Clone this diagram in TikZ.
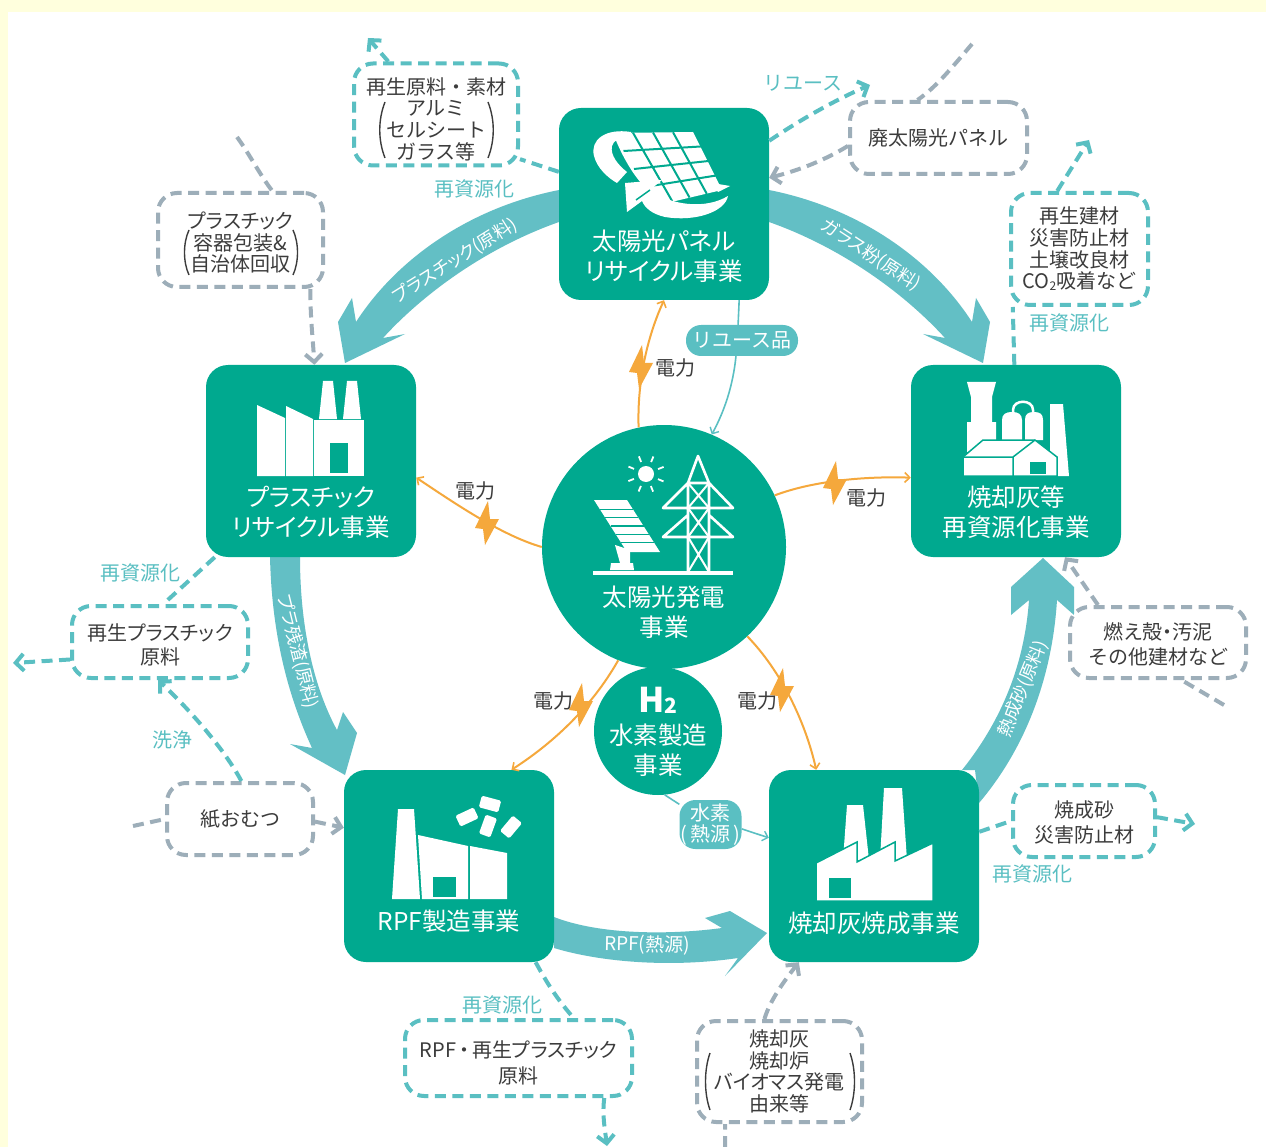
\documentclass[tikz,border=0pt]{standalone}
\usepackage{fontspec}
\setmainfont{Noto Sans CJK JP}
\newfontfamily\pf[RawFeature=+palt]{Noto Sans CJK JP}
\usetikzlibrary{arrows.meta,calc,shapes.geometric}
\definecolor{grn}{HTML}{00A98F}
\definecolor{bandc}{HTML}{63BFC5}
\definecolor{tealc}{HTML}{5ABFC2}
\definecolor{greyc}{HTML}{9DAEB9}
\definecolor{orng}{HTML}{F5A83C}
\definecolor{inkc}{HTML}{3C3C3C}
\definecolor{paper}{HTML}{FFFFDD}
\newcommand\fs[2]{\fontsize{#1}{#2}\selectfont}
\newcommand\dn[1]{\rule{0pt}{#1pt}}
\tikzset{
 mainbox/.style={fill=grn,rounded corners=22pt,minimum width=210pt,minimum height=192pt,inner sep=0pt},
 mainlabel/.style={text=white,font=\pf\fs{24.5}{30},align=center,inner sep=0pt},
 dashbox/.style={fill=white,line width=4pt,dash pattern=on 11pt off 6.5pt,rounded corners=19pt,inner sep=0pt,text=inkc,font=\fs{20}{21.7},align=center},
 tealbox/.style={dashbox,draw=tealc},
 greybox/.style={dashbox,draw=greyc},
 dashconn/.style={line width=4pt,dash pattern=on 11pt off 6.5pt},
 tealline/.style={dashconn,draw=tealc},
 greyline/.style={dashconn,draw=greyc},
 barb/.style={-{Straight Barb[length=8pt,width=17pt,line width=4pt]}},
 power/.style={draw=orng,line width=2pt,-{Straight Barb[length=5pt,width=10pt,line width=1.6pt]}},
 thinteal/.style={draw=tealc,line width=1.6pt},
 thintip/.style={-{Straight Barb[length=5pt,width=10pt,line width=1.4pt]}},
 band/.style={fill=bandc},
 bandlabel/.style={text=white,font=\pf\fs{18}{18},inner sep=0pt},
 caption/.style={text=tealc,font=\fs{20}{22},inner sep=0pt},
 dark/.style={text=inkc,font=\fs{20}{22},inner sep=0pt},
 pill/.style={fill=tealc,text=white,font=\fs{20}{21},align=center,inner sep=0pt},
 pics/bolt/.style={code={\fill[orng] (1,-22) -- (-12,5) -- (-4,6) -- (-2,22) -- (12,-4) -- (3,-4) -- cycle;}}
}
\begin{document}
\begin{tikzpicture}[x=1pt,y=-1pt]
\useasboundingbox (0,0) rectangle (1266,1147);
\fill[paper] (0,0) rectangle (1266,1147);
\fill[white] (8,12) rectangle (1266,1147);
% broad process arrows
\fill[band] (769,190) .. controls (860,208) and (932,260) .. (972,322) -- (976,298) -- (990,322) -- (983,363) -- (923,334) -- (945,338) .. controls (903,292) and (840,247) .. (769,222) -- cycle;
\fill[band] (559,190) .. controls (468,208) and (396,260) .. (356,322) -- (352,298) -- (338,322) -- (345,363) -- (405,334) -- (383,338) .. controls (425,292) and (488,247) .. (559,222) -- cycle;
\fill[band] (270,557) .. controls (272,640) and (290,700) .. (312,748) -- (290,744) -- (345,775) -- (357,733) -- (343,712) -- (337,730) .. controls (315,690) and (300,630) .. (300,557) -- cycle;
\fill[band] (554,917) .. controls (600,935) and (670,935) .. (722,928) -- (705,918) -- (730,911) -- (767,933) -- (725,976) -- (738,958) .. controls (670,968) and (600,962) .. (554,948) -- cycle;
\fill[band] (1043,558) -- (1074,587) -- (1074,615) -- (1057,600) .. controls (1052,680) and (1024,750) .. (979,803) -- (975,770) -- (962,770) .. controls (998,725) and (1024,670) .. (1029,600) -- (1011,615) -- (1011,587) -- cycle;
% labels on the broad arrows
\node[bandlabel,rotate=32] (lblplastic) at (455,261) {プラスチック(原料)};
\node[bandlabel,rotate=-33] (lblglass) at (871,255) {ガラス粉(原料)};
\node[bandlabel,rotate=-76] (lblresidue) at (298,652) {プラ残渣(原料)};
\node[bandlabel,rotate=-1,font=\pf\fs{19}{19}] (lblrpf) at (647,945) {RPF(熱源)};
\node[bandlabel,rotate=68] (lblsand) at (1023,689) {熱成砂(原料)};
% main nodes
\node[mainbox] (solar) at (664,204) {};
\node[mainbox] (plastic) at (311,461) {};
\node[mainbox] (ash) at (1016,461) {};
\node[mainbox] (rpf) at (449,866) {};
\node[mainbox] (sinter) at (874,866) {};
\node[circle,fill=grn,minimum size=244pt,inner sep=0pt] (big) at (664,547) {};
\node[circle,fill=grn,minimum size=128pt,inner sep=0pt] (htwo) at (658,731) {};
\node[mainlabel] (solartext) at (664,256) {太陽光パネル\\リサイクル事業};
\node[mainlabel] (plastictext) at (311,512) {プラスチック\\リサイクル事業};
\node[mainlabel] (ashtext) at (1016,512) {焼却灰等\\再資源化事業};
\node[mainlabel] (rpftext) at (449,921) {RPF製造事業};
\node[mainlabel] (sintertext) at (874,923) {焼却灰焼成事業};
\node[mainlabel] (bigtext) at (664,612) {太陽光発電\\事業};
\node[mainlabel] (htext) at (658,750) {水素製造\\事業};
\node[text=white,inner sep=0pt,font=\fs{34}{34}\bfseries] (hsym) at (658,700) {H\raisebox{-1pt}{\fs{21}{21}2}};
% solar panel icon
\fill[white] (613,133) -- (693,132) -- (722,190) -- (667,203) .. controls (645,195) and (625,165) .. (613,133) -- cycle;
\foreach \t in {0.25,0.5,0.75}{
 \draw[grn,line width=2pt] ($(613,133)!\t!(693,132)$) -- ($(655,205)!\t!(724,190)$);
 \draw[grn,line width=2pt] ($(613,133)!\t!(655,205)$) -- ($(693,132)!\t!(724,190)$);
}
\fill[white] (631,132) .. controls (605,128) and (590,140) .. (594,156) .. controls (597,168) and (608,178) .. (617,183) -- (627,172) .. controls (618,165) and (610,155) .. (612,146) .. controls (613,141) and (620,137) .. (631,137) -- cycle;
\fill[white] (625,183) -- (662,180) -- (650,190) .. controls (670,205) and (705,210) .. (728,196) .. controls (725,212) and (695,222) .. (665,217) .. controls (652,214) and (645,208) .. (642,201) -- (627,212) -- cycle;
\draw[grn,line width=1.5pt] (650,190) -- (636,200);
\fill[white] (712,183) -- (730,186) -- (718,192) -- cycle;
% plastics factory icon
\fill[white] (257,405) -- (285,418) -- (285,476) -- (257,476) -- cycle;
\fill[white] (286,406) -- (313,419) -- (313,476) -- (286,476) -- cycle;
\fill[white] (314,420) -- (364,420) -- (364,476) -- (314,476) -- cycle;
\fill[grn] (330,443) rectangle (348,473);
\fill[white] (323,381) -- (333,381) -- (337,419) -- (319,419) -- cycle;
\fill[white] (347,381) -- (357,381) -- (361,419) -- (343,419) -- cycle;
% ash recycling icon
\fill[white] (967,382) -- (996,382) -- (992,397) -- (992,422) -- (996,422) -- (996,445) -- (967,452) -- (967,422) -- (971,422) -- (971,397) -- cycle;
\fill[white] (1002,440) -- (1002,420) .. controls (1002,414) and (1006,412) .. (1012,412) .. controls (1018,412) and (1022,414) .. (1022,420) -- (1022,440) -- cycle;
\fill[white] (1025,440) -- (1025,420) .. controls (1025,414) and (1028,412) .. (1034,412) .. controls (1040,412) and (1043,414) .. (1043,420) -- (1043,440) -- cycle;
\draw[white,line width=2.5pt] (1013,414) -- (1013,410) .. controls (1013,399) and (1033,399) .. (1033,410) -- (1033,414);
\fill[white] (1050,404) -- (1063,404) -- (1069,476) -- (1050,476) -- cycle;
\fill[white,draw=grn,line width=1.5pt] (963,457) -- (983,440) -- (1035,440) -- (1057,457) -- (1057,476) -- (963,476) -- cycle;
\draw[grn,line width=1.5pt] (963,457) -- (1013,457) -- (1035,440) (1013,457) -- (1013,476);
\fill[grn] (1030,462) rectangle (1046,474);
% RPF icon
\fill[white] (398,809) -- (414,809) -- (420,899) -- (392,899) -- cycle;
\fill[white] (418,835) -- (468,846) -- (468,899) -- (422,899) -- cycle;
\fill[white] (470,846) -- (507,853) -- (507,899) -- (470,899) -- cycle;
\fill[grn] (433,877) rectangle (456,897);
\foreach \bx/\by/\ba in {467/817/25,490/804/-15,488/826/70,511/827/50}{
 \fill[white,rotate around={\ba:(\bx,\by)},rounded corners=1.5pt] (\bx-10,\by-6) rectangle (\bx+10,\by+6);
}
% sintering icon
\fill[white] (847,805) -- (863,805) -- (869,860) -- (843,860) -- cycle;
\fill[white] (884,788) -- (902,788) -- (907,860) -- (880,860) -- cycle;
\fill[white,draw=grn,line width=1.5pt] (816,863) -- (857,842) -- (857,862) -- (895,842) -- (895,861) -- (933,843) -- (933,901) -- (816,901) -- cycle;
\fill[grn] (829,878) rectangle (851,898);
% photovoltaic icon
\fill[white] (646,474) circle (8pt);
\foreach \a in {22,67,112,157,202,247,292,337}{
 \draw[white,line width=1.8pt] ($(646,474)+(\a:13pt)$) -- ($(646,474)+(\a:19pt)$);
}
\fill[white] (594,500) -- (627,500) -- (660,552) -- (627,552) -- cycle;
\foreach \t in {0.18,0.34,0.5,0.66,0.82}{
 \draw[grn,line width=1.2pt] ($(594,500)!\t!(627,552)$) -- ($(627,500)!\t!(660,552)$);
}
\fill[white] (615,545) -- (630,550) -- (630,563) -- (633,563) -- (634,570) -- (610,570) -- (611,563) -- (620,563) -- cycle;
\draw[white,line width=4pt] (593,573) -- (733,573);
\draw[white,line width=2.6pt,line join=round] (688,572) -- (688,483) -- (698,456) -- (709,483) -- (709,572)
 (688,483) -- (663,508) -- (733,508) -- (709,483)
 (688,515) -- (663,537) -- (733,537) -- (709,515)
 (688,483) -- (709,483);
\draw[white,line width=2pt] (688,483) -- (709,508) (709,483) -- (688,508)
 (688,508) -- (709,537) (709,508) -- (688,537)
 (688,537) -- (709,572) (709,537) -- (688,572);
% dashed boxes
\node[tealbox,minimum width=164pt,minimum height=102pt] (recyA) at (436,114.5) {\dn{26}再生原料・素材\\アルミ\\セルシート\\ガラス等};
\node[greybox,minimum width=177pt,minimum height=72pt] (wastepv) at (938.5,138) {廃太陽光パネル};
\node[tealbox,minimum width=137pt,minimum height=112pt] (recyC) at (1079.5,249) {再生建材\\災害防止材\\土壌改良材\\CO{\fs{12}{12}\raisebox{-2pt}{2}}吸着など};
\node[greybox,minimum width=165pt,minimum height=94pt] (pack) at (240.5,240) {\dn{22}{\pf プラスチック}\\容器包装\&\\自治体回収};
\node[tealbox,minimum width=176pt,minimum height=72pt] (recyE) at (160,642) {\dn{22}{\pf 再生プラスチック}\\[2pt]原料};
\node[greybox,minimum width=146pt,minimum height=72pt] (diaper) at (240,819) {紙おむつ};
\node[tealbox,minimum width=227pt,minimum height=76pt] (recyG) at (518.5,1058) {\dn{26}{\pf RPF\kern3pt・\kern3pt再生プラスチック}\\[4pt]原料};
\node[greybox,minimum width=165pt,minimum height=101pt] (ashin) at (779.5,1071.5) {焼却灰\\焼却炉\\{\pf バイオマス発電}\\由来等};
\node[greybox,minimum width=176pt,minimum height=71pt] (shell) at (1158,642.5) {\dn{20}{\pf 燃え殻・汚泥}\\[3pt]その他建材など};
\node[tealbox,minimum width=142pt,minimum height=72pt] (recyJ) at (1084,821) {\dn{20}焼成砂\\[3pt]災害防止材};
% brackets in the boxes
\begin{scope}[inkc,line width=1.4pt]
\draw (385,102) .. controls (378,120) and (378,140) .. (385,158);
\draw (488,102) .. controls (495,120) and (495,140) .. (488,158);
\draw (189,230) .. controls (183,243) and (183,262) .. (189,275);
\draw (293,230) .. controls (299,243) and (299,262) .. (293,275);
\draw (710,1053) .. controls (704,1070) and (704,1093) .. (710,1110);
\draw (850,1053) .. controls (856,1070) and (856,1093) .. (850,1110);
\end{scope}
% free ends
\coordinate (endA) at (368,38);
\coordinate (endReuse) at (870,85);
\coordinate (inPV) at (972,44);
\coordinate (endC) at (1089,140);
\coordinate (inPack) at (237,137);
\coordinate (endE) at (13,663);
\coordinate (inDiaper) at (133,826);
\coordinate (endG) at (607,1146);
\coordinate (inAsh) at (725,1147);
\coordinate (inShell) at (1224,705);
\coordinate (endJ) at (1195,824);
% dashed connectors
\draw[tealline,barb] (recyA.132) -- (endA);
\draw[tealline] (solar.163.5) -- (recyA.-28);
\draw[tealline,barb] (solar.31.4) .. controls (800,120) and (835,100) .. (endReuse);
\draw[greyline,barb] (wastepv.185.8) .. controls (825,160) and (800,170) .. (solar.14.3);
\draw[greyline] (inPV) .. controls (950,70) and (935,88) .. (wastepv.119.7);
\draw[tealline,barb] (recyC.111.5) -- (endC);
\draw[tealline] (ash.91.2) -- (recyC.221.4);
\draw[greyline] (inPack) .. controls (250,155) and (260,175) .. (pack.57.9);
\draw[greyline,barb] (pack.-35.3) .. controls (310,315) and (313,340) .. (plastic.88.2);
\draw[tealline] (plastic.225.6) -- (recyE.85);
\draw[tealline,barb] (recyE.191.6) -- (endE);
\draw[tealline,barb] (diaper.88.4) .. controls (225,750) and (190,710) .. (recyE.-93);
\draw[greyline] (inDiaper) -- (diaper.180.8);
\draw[greyline,barb] (diaper.-2.4) -- (rpf.160.6);
\draw[tealline] (rpf.-48.8) .. controls (548,985) and (558,1000) .. (recyG.36.4);
\draw[tealline,barb] (recyG.-25.5) .. controls (602,1115) and (605,1130) .. (endG);
\draw[greyline,barb] (ashin.106) .. controls (770,1000) and (785,980) .. (sinter.232.4);
\draw[greyline] (inAsh) -- (ashin.224.4);
\draw[greyline,barb] (shell.148.5) -- (ash.297.7);
\draw[greyline] (inShell) -- (shell.-58.2);
\draw[tealline] (sinter.18) -- (recyJ.180.8);
\draw[tealline,barb] (recyJ.3.2) -- (endJ);
% thin connectors and pills
\draw[power] (big.102.6) .. controls (637,380) and (648,335) .. (solar.south);
\draw[power] (big.25.1) .. controls (810,482) and (860,476) .. (ash.189.7);
\draw[power] (big.180) .. controls (500,535) and (450,500) .. (plastic.-9.6);
\draw[power] (big.248.5) .. controls (590,710) and (550,745) .. (rpf.57.7);
\draw[power] (big.313.7) .. controls (780,670) and (805,720) .. (sinter.121);
\node[pill,rounded corners=15pt,minimum width=112pt,minimum height=31pt] (reuse) at (742,340.5) {リユース品};
\draw[thinteal] (solar.-52.4) -- (reuse.104.5);
\draw[thinteal,thintip] (reuse.-111) .. controls (733,385) and (725,410) .. (big.67.2);
\node[pill,rounded corners=16pt,minimum width=62pt,minimum height=49pt] (water) at (710.5,824.5) {水素\\(\,熱源\,)};
\draw[thinteal] (htwo.-84.6) -- (water);
\draw[thinteal,thintip] (water.-8) -- (sinter.165.2);
% lightning
\pic at (641,367) {bolt};
\pic at (487,523) {bolt};
\pic at (835,483) {bolt};
\pic at (581,705) {bolt};
\pic at (782,690) {bolt};
% captions
\node[dark] (pw1) at (675,368) {電力};
\node[dark] (pw2) at (475,491) {電力};
\node[dark] (pw3) at (866,498) {電力};
\node[dark] (pw4) at (553,701) {電力};
\node[dark] (pw5) at (757,701) {電力};
\node[caption] (c1) at (474,189) {再資源化};
\node[caption] (c2) at (1069,323) {再資源化};
\node[caption] (c3) at (140,573) {再資源化};
\node[caption] (c4) at (502,1005) {再資源化};
\node[caption] (c5) at (1032,874) {再資源化};
\node[caption] (c6) at (803,83) {リユース};
\node[caption] (c7) at (172,740) {洗浄};
\end{tikzpicture}
\end{document}
